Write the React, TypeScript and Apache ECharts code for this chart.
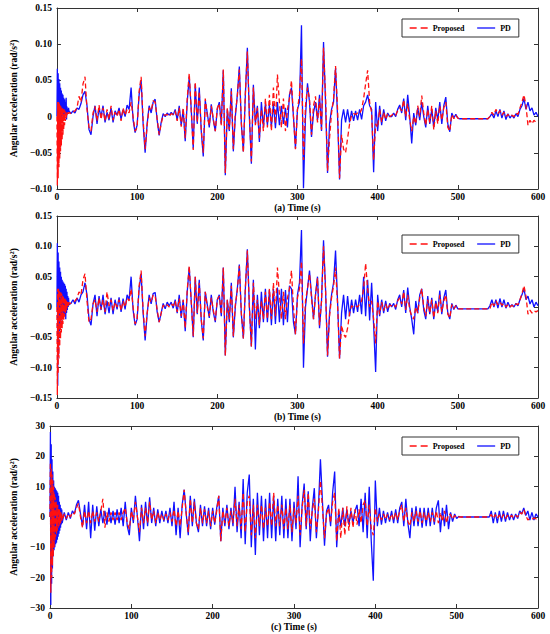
import React, { useEffect, useRef } from "react";
import * as echarts from "echarts";

// Sample times: 0..15 s every 0.5 s, then 17.5..600 s every 2.5 s
const headTime = Array.from({ length: 31 }, (_, k) => k * 0.5);
const bodyTime = Array.from({ length: 234 }, (_, k) => 17.5 + k * 2.5);
const time = [...headTime, ...bodyTime];

const xTicks = [0, 100, 200, 300, 400, 500, 600];

// ---------- Panel (a) ----------
const pdA = [
  0.0, 0.066, -0.008, 0.06, -0.006, 0.052, -0.004, 0.046, -0.002, 0.04, 0.0,
  0.036, -0.002, 0.032, 0.002, 0.03, 0.0, 0.026, 0.002, 0.024, 0.004,
  0.02, 0.002, 0.026, -0.004, 0.014, 0.004, 0.01, 0.006, 0.012, 0.008,
  0.004, 0.008, 0.005, 0.012, 0.01, 0.018, 0.03, 0.035, 0.015, -0.018,
  -0.025, 0.0, 0.015, -0.01, 0.012, 0.0, 0.015, -0.008, 0.006, -0.005,
  0.012, -0.008, 0.008, 0.002, 0.012, -0.004, 0.01, 0.0, 0.016, 0.01,
  0.04, -0.005, -0.022, -0.012, 0.03, 0.05, -0.01, -0.05, -0.01, 0.015,
  0.005, 0.02, 0.024, -0.005, -0.026, -0.008, 0.004, 0.0, 0.005, 0.002,
  0.006, 0.002, 0.01, -0.005, 0.015, -0.012, 0.01, -0.034, 0.02, 0.055,
  0.01, -0.044, 0.045, -0.01, 0.04, -0.02, -0.055, 0.022, 0.005, -0.015,
  0.017, -0.005, -0.02, 0.01, 0.02, -0.01, 0.064, -0.081, 0.01, -0.02,
  0.039, -0.048, 0.0, 0.03, 0.069, -0.01, -0.048, 0.03, 0.095, 0.0,
  -0.065, 0.044, -0.01, 0.015, -0.035, 0.02, -0.015, 0.018, -0.012, 0.016,
  -0.014, 0.018, -0.016, 0.02, -0.012, 0.015, -0.01, 0.012, -0.015, 0.03,
  0.04, 0.0, -0.044, 0.01, 0.02, 0.126, -0.099, 0.0, 0.046, 0.02,
  -0.028, 0.005, 0.02, -0.005, 0.03, -0.02, 0.103, 0.02, -0.078, -0.01,
  0.01, 0.02, 0.067, 0.0, -0.087, -0.005, 0.01, -0.008, 0.01, -0.008,
  0.008, -0.006, 0.008, -0.005, 0.01, -0.004, 0.015, 0.02, 0.03, 0.015,
  0.01, -0.077, 0.02, -0.02, 0.015, -0.012, 0.01, -0.006, 0.005, 0.0,
  0.0, 0.005, 0.0, 0.01, 0.016, 0.005, 0.025, -0.005, 0.03, 0.0,
  -0.037, 0.005, -0.012, 0.012, -0.005, 0.02, 0.0, -0.015, 0.015, -0.01,
  0.01, -0.015, 0.012, -0.005, 0.02, -0.01, 0.015, 0.027, -0.01, -0.021,
  0.005, -0.002, 0.003, -0.002, -0.003, -0.003, -0.003, -0.003, -0.003, -0.003,
  -0.003, -0.003, -0.003, -0.003, -0.003, -0.003, -0.003, -0.003, -0.003, 0.0,
  0.004, -0.002, 0.008, 0.0, 0.01, -0.002, 0.008, -0.004, 0.004, -0.002,
  0.002, -0.002, 0.004, 0.0, 0.01, 0.015, 0.025, 0.01, 0.02, 0.008,
  0.012, 0.002, 0.006, 0.0,
];

const proposedA = [
  0.0, -0.095, 0.02, -0.085, 0.02, -0.07, 0.018, -0.058, 0.016, -0.048, 0.014,
  -0.04, 0.012, -0.032, 0.012, -0.025, 0.01, -0.018, 0.01, -0.012, 0.008,
  -0.006, 0.006, -0.002, 0.005, 0.002, 0.006, 0.003, 0.006, 0.004, 0.006,
  0.004, 0.006, 0.008, 0.012, 0.028, 0.02, 0.045, 0.055, 0.01, -0.015,
  -0.02, 0.005, 0.014, -0.006, 0.016, -0.004, 0.012, -0.006, 0.01, -0.004,
  0.015, -0.005, 0.006, 0.0, 0.01, -0.006, 0.012, 0.002, 0.01, 0.005,
  0.02, 0.0, -0.02, -0.015, 0.035, 0.055, -0.005, -0.045, -0.012, 0.012,
  0.008, 0.022, 0.02, -0.003, -0.025, -0.01, 0.002, 0.002, 0.003, 0.0,
  0.004, 0.003, 0.008, -0.006, 0.012, -0.014, 0.012, -0.03, 0.025, 0.06,
  0.008, -0.046, 0.048, -0.008, 0.035, -0.018, -0.05, 0.025, 0.0, -0.012,
  0.015, -0.003, -0.02, 0.012, 0.018, -0.012, 0.065, -0.078, 0.012, -0.018,
  0.035, -0.045, 0.004, 0.028, 0.065, -0.008, -0.05, 0.032, 0.09, 0.004,
  -0.062, 0.04, -0.012, 0.012, -0.03, 0.01, -0.02, 0.025, -0.015, 0.03,
  -0.02, 0.04, -0.01, 0.058, 0.02, -0.015, 0.025, -0.02, 0.01, 0.025,
  0.05, 0.0, -0.045, 0.01, 0.03, 0.08, -0.06, 0.015, 0.04, 0.025,
  -0.025, 0.015, 0.028, -0.008, 0.025, -0.018, 0.095, 0.03, -0.075, -0.03,
  0.005, 0.025, 0.07, 0.01, -0.085, -0.025, -0.045, -0.05, -0.03, -0.01,
  0.002, 0.004, 0.003, 0.005, 0.004, 0.01, 0.025, 0.045, 0.064, 0.02,
  0.005, -0.06, -0.01, -0.015, 0.01, -0.008, 0.006, -0.004, 0.004, 0.0,
  0.002, 0.004, 0.002, 0.008, 0.012, 0.008, 0.023, 0.0, 0.018, -0.005,
  -0.02, 0.0, -0.01, 0.015, 0.0, 0.029, 0.005, -0.012, 0.01, -0.008,
  0.015, -0.018, 0.008, -0.01, 0.015, -0.005, 0.012, 0.02, -0.015, -0.02,
  0.003, -0.003, 0.002, -0.002, -0.003, -0.003, -0.003, -0.003, -0.003, -0.003,
  -0.003, -0.003, -0.003, -0.003, -0.003, -0.003, -0.003, -0.003, -0.003, 0.0,
  0.006, 0.002, 0.01, 0.004, 0.008, 0.002, 0.006, 0.0, 0.003, 0.0,
  0.002, 0.0, 0.005, 0.003, 0.012, 0.02, 0.03, 0.015, -0.012, -0.005,
  -0.01, -0.005, -0.008, -0.006,
];

// ---------- Panel (b) ----------
const pdB = [
  0.0, 0.105, -0.13, 0.09, -0.08, 0.075, -0.04, 0.065, -0.03, 0.058, -0.025,
  0.05, -0.02, 0.045, -0.018, 0.042, -0.015, 0.04, -0.012, 0.038, -0.015,
  0.035, -0.02, 0.03, -0.01, 0.025, -0.005, 0.018, 0.0, 0.015, 0.004,
  0.006, 0.012, 0.005, 0.015, 0.008, 0.02, 0.025, 0.04, 0.02, -0.02,
  -0.03, 0.005, 0.02, -0.015, 0.018, -0.005, 0.02, -0.012, 0.01, -0.01,
  0.015, -0.012, 0.012, -0.004, 0.016, -0.008, 0.014, -0.004, 0.02, 0.012,
  0.05, -0.005, -0.03, -0.02, 0.03, 0.055, -0.01, -0.055, -0.012, 0.02,
  0.005, 0.022, 0.024, -0.008, -0.025, -0.01, 0.006, -0.003, 0.008, 0.002,
  0.008, -0.002, 0.012, -0.01, 0.02, -0.018, 0.012, -0.04, 0.025, 0.065,
  0.01, -0.05, 0.05, -0.012, 0.045, -0.022, -0.055, 0.025, 0.004, -0.018,
  0.02, -0.008, -0.025, 0.012, 0.02, -0.015, 0.065, -0.08, 0.012, -0.025,
  0.04, -0.05, 0.0, 0.03, 0.07, -0.012, -0.052, 0.03, 0.095, 0.0,
  -0.065, 0.045, -0.07, 0.02, -0.035, 0.025, -0.025, 0.03, -0.025, 0.028,
  -0.03, 0.03, -0.028, 0.032, -0.025, 0.03, -0.03, 0.028, -0.025, 0.035,
  0.03, -0.025, -0.045, 0.02, 0.04, 0.127, -0.1, 0.0, 0.03, 0.06,
  0.02, -0.02, 0.02, 0.05, -0.035, 0.01, 0.11, 0.03, -0.082, -0.01,
  0.02, 0.04, 0.093, 0.01, -0.085, -0.01, 0.02, -0.02, 0.018, -0.015,
  0.012, -0.01, 0.012, -0.008, 0.02, -0.012, 0.05, -0.015, 0.045, -0.022,
  0.04, -0.03, -0.107, 0.02, -0.015, 0.012, -0.01, 0.01, -0.008, 0.006,
  0.0, 0.006, -0.004, 0.012, 0.02, 0.0, 0.028, -0.01, 0.032, 0.0,
  -0.02, -0.045, 0.01, -0.01, 0.02, 0.03, -0.005, -0.02, 0.018, -0.012,
  0.015, -0.02, 0.01, -0.008, 0.027, -0.012, 0.015, 0.028, -0.01, -0.02,
  0.006, -0.004, 0.003, -0.003, -0.003, -0.003, -0.003, -0.003, -0.003, -0.003,
  -0.003, -0.003, -0.003, -0.003, -0.003, -0.003, -0.003, -0.003, -0.003, 0.002,
  0.012, 0.0, 0.012, -0.002, 0.014, 0.0, 0.012, -0.002, 0.008, 0.0,
  0.004, 0.0, 0.006, 0.002, 0.012, 0.02, 0.03, 0.012, 0.018, 0.005,
  0.012, 0.0, 0.008, 0.002,
];

const proposedB = [
  0.0, -0.145, 0.03, -0.11, 0.03, -0.085, 0.028, -0.065, 0.026, -0.052, 0.024,
  -0.042, 0.022, -0.035, 0.02, -0.028, 0.018, -0.022, 0.016, -0.016, 0.014,
  -0.01, 0.012, -0.006, 0.01, -0.002, 0.008, 0.0, 0.008, 0.002, 0.007,
  0.006, 0.008, 0.01, 0.014, 0.025, 0.02, 0.045, 0.055, 0.01, -0.025,
  -0.02, 0.005, 0.012, -0.008, 0.015, -0.004, 0.012, -0.008, 0.025, 0.002,
  0.012, -0.006, 0.008, 0.0, 0.012, -0.006, 0.01, 0.0, 0.015, 0.01,
  0.03, 0.0, -0.028, -0.02, 0.035, 0.06, -0.005, -0.048, -0.01, 0.015,
  0.008, 0.02, 0.018, -0.004, -0.025, -0.01, 0.003, 0.0, 0.004, 0.0,
  0.005, 0.002, 0.01, -0.008, 0.014, -0.015, 0.012, -0.035, 0.028, 0.068,
  0.008, -0.048, 0.05, -0.01, 0.04, -0.02, -0.052, 0.025, 0.0, -0.015,
  0.015, -0.005, -0.022, 0.012, 0.018, -0.012, 0.065, -0.08, 0.012, -0.02,
  0.035, -0.048, 0.004, 0.028, 0.068, -0.01, -0.052, 0.032, 0.093, 0.002,
  -0.065, 0.04, -0.02, 0.012, -0.03, 0.01, -0.02, 0.025, -0.02, 0.03,
  -0.02, 0.04, -0.015, 0.065, 0.02, -0.02, 0.025, -0.02, 0.015, 0.03,
  0.06, 0.0, -0.045, 0.015, 0.03, 0.075, -0.06, 0.01, 0.03, 0.055,
  0.015, -0.02, 0.02, 0.048, -0.03, 0.01, 0.1, 0.03, -0.08, -0.015,
  0.015, 0.035, 0.065, 0.005, -0.085, -0.03, -0.045, -0.05, -0.035, -0.01,
  0.002, 0.0, 0.002, 0.0, 0.005, 0.01, 0.03, 0.072, 0.03, 0.0,
  0.01, -0.02, -0.06, 0.01, -0.012, 0.008, -0.006, 0.005, -0.004, 0.003,
  0.002, 0.004, 0.0, 0.01, 0.015, 0.005, 0.025, -0.005, 0.02, -0.005,
  -0.015, -0.02, 0.0, -0.01, 0.015, 0.03, 0.0, -0.015, 0.012, -0.01,
  0.012, -0.018, 0.008, -0.01, 0.02, -0.008, 0.01, 0.02, -0.012, -0.018,
  0.004, -0.003, 0.002, -0.003, -0.003, -0.003, -0.003, -0.003, -0.003, -0.003,
  -0.003, -0.003, -0.003, -0.003, -0.003, -0.003, -0.003, -0.003, -0.003, -0.003,
  0.008, 0.002, 0.01, 0.004, 0.008, 0.003, 0.006, 0.0, 0.004, 0.0,
  0.003, 0.0, 0.005, 0.004, 0.012, 0.022, 0.035, 0.018, -0.012, -0.005,
  -0.01, -0.006, -0.008, -0.006,
];

// ---------- Panel (c) ----------
const pdC = [
  0, 28, -29, 24, -22, 19, -17, 15, -13, 12, -11,
  10, -10, 9.5, -9, 9, -8.5, 8.5, -7.5, 8, -6.5,
  7, -5.5, 5, -4.5, 4, -3.5, 3, -2.5, 2.5, -2,
  1.5, -1, 1.5, -0.5, 2, 1, 4, 5.5, 1, -3,
  4, -4, 5, -7, 4, -4.5, 3.5, -3, 2.5, -2,
  2, -2.5, 3, -2, 2, -2.5, 2.5, -2, 3, -3,
  5, -3, -6, 3, -2, 7, 0, -8, 4, -4,
  5, -3, 6.5, -2, 3, -3, 2.5, -2, 2, -1.5,
  2, -2, 3, -3, 5, -6, 3, -7, 4, 9,
  1, -6, 7, -3, 6, -2, -5, 4, -3, 3.5,
  -3, 3, -4, 3, -2.5, 3, 7, -8, 3, -3,
  4, -4, 3, -3, 10, -5, 5, -7, 12.5, -9,
  8, 14, -10, 6, -12.5, 8, -6, 7, -8, 6,
  -7, 8, -7, 7, -8, 6, -6, 7, -7, 6,
  -7, 6, -8, 5, -4, 13.4, -10, 4, 11, -4,
  8.5, -8, 3, 9.5, -7, 3, 19, 5, -9.5, 2,
  4, -3, 8, 15, -10, 2, -3, 3, -3, 2.5,
  -2.5, 2, -2, 2, 4, -3, 6, -5, 8, -7,
  10, -8, -21, 12, -3, 3, -2.5, 2, -2, 1.5,
  -1.5, 2, -2, 2.5, -2, 3, 5, -3, 6, -2,
  -7, 3, -3, 3.5, -3, 3, -3.5, 3, -3, 3,
  -3, 3, -2.5, 3, 5.5, -5, 3, -3, 4, -4,
  1.5, -1.5, 1, -0.5, 0.2, 0, 0, 0, 0, 0,
  0, 0, 0, 0, 0, 0, 0, 0, 0, 0,
  2, -2, 1.5, -2, 2, -1.5, 2, -1.5, 1.5, -1,
  1, -1, 1, -0.5, 2, 1, 3, 0.5, 2, -1,
  1.5, -1, 1, 0,
];

const proposedC = [
  0, 18, -25, 16, -20, 14, -16, 12, -13, 10, -10,
  8, -8, 6.5, -6.5, 5.5, -5.5, 4.5, -4.5, 4, -3.5,
  3, -3, 2.5, -2.5, 2, -2, 1.5, -1.5, 1.2, -1.2,
  1, -0.5, 1, 0, 1.5, 1, 3, 4.5, 0, -3.5,
  2, -2, 2, -2, 2, -1.5, 1.5, -1.5, 2, 6,
  -3.5, 1.5, -1.5, 1.5, -1, 1.5, -1, 1.5, -1, 1.5,
  3, -2, -4, 2, -1, 5, 0, -5, 3, -2,
  3, -2, 5, -1, 2, -2, 1.5, -1, 1, -1,
  1, -1, 1.5, -1.5, 2.5, -3, 2, -3, 3, 9,
  1, -5, 6, -2, 5, -2, -4, 3, -2, 2.5,
  -2, 2, -3, 2, -2, 2, 7, -8, 2, -2,
  3, -3, 2, -2, 6, -3, 4, -4, 8, -5,
  5, 7, -6, 4, -7, 4, -3, 4, -4, 3,
  -3, 5, -3, 8, -3, 4, -3, 4, -4, 3,
  -4, 4, -5, 3, -2, 7, -6, 3, 9, -3,
  8, -4, 2, 6, -5, 2, 12, 3, -7, 1,
  3, -2, 5, 8, -8, 3, -7, 3, -6, 3.5,
  -4.5, 3, -3.5, 2.5, -2.5, 2.5, -2, 4, 5.5, -3,
  4, -4, -6, 3, -1.5, 1, -1, 1, -0.8, 0.8,
  -0.8, 1, -1, 1.5, -1, 2, 4, -1.5, 3, -1.5,
  -3, 1.5, -1.5, 2, -1.5, 2, -2, 1.5, -1.5, 1.5,
  -1.5, 1.5, -1.5, 2, -2, 1.5, -1.5, 2, -2, 1,
  0.8, -0.8, 0.5, -0.3, 0, 0, 0, 0, 0, 0,
  0, 0, 0, 0, 0, 0, 0, 0, 0, 0,
  0.8, -0.5, 0.8, -0.5, 0.6, -0.5, 0.8, -0.5, 0.5, -0.3,
  0.5, -0.3, 0.5, 0, 1.5, 1, 2.5, 0.5, -1, -0.5,
  -0.8, -0.3, -0.6, -0.5,
];

const FONT = "'Liberation Serif', 'Times New Roman', serif";
const RED = "#ff1010";
const BLUE = "#1010ff";
const AXIS_COLOR = "#333";

const fmtSmall = (v: number) =>
  Math.abs(v) < 1e-9 ? "0" : (v < 0 ? "\u2212" : "") + Math.abs(v).toFixed(2);
const fmtInt = (v: number) =>
  Math.abs(v) < 1e-9 ? "0" : (v < 0 ? "\u2212" : "") + Math.abs(Math.round(v)).toString();

const panels = [
  { top: 8, height: 181, min: -0.1, max: 0.15, interval: 0.05, label: "(a) Time (s)", pd: pdA, pr: proposedA, fmt: fmtSmall, legendTop: 19 },
  { top: 216, height: 182, min: -0.15, max: 0.15, interval: 0.05, label: "(b) Time (s)", pd: pdB, pr: proposedB, fmt: fmtSmall, legendTop: 235 },
  { top: 426, height: 182, min: -30, max: 30, interval: 10, label: "(c) Time (s)", pd: pdC, pr: proposedC, fmt: fmtInt, legendTop: 437 },
];

function buildOption() {
  const grid: any[] = [];
  const xAxis: any[] = [];
  const yAxis: any[] = [];
  const series: any[] = [];
  const legend: any[] = [];
  const tick = { show: true, inside: true, length: 4, lineStyle: { color: AXIS_COLOR, width: 1 } };
  const line = { show: true, onZero: false, lineStyle: { color: AXIS_COLOR, width: 1 } };
  const txt = { fontFamily: FONT, fontWeight: "bold", fontSize: 9.5, color: "#000" };

  panels.forEach((p, i) => {
    grid.push({ left: 49, width: 489, top: p.top, height: p.height, show: false });
    xAxis.push({
      type: "value", gridIndex: i, min: xTicks[0], max: xTicks[xTicks.length - 1], interval: 100,
      position: "bottom", axisLine: line, axisTick: tick, splitLine: { show: false },
      axisLabel: { ...txt, margin: 3 },
      name: p.label, nameLocation: "middle", nameGap: 14, nameTextStyle: { ...txt },
    });
    xAxis.push({
      type: "value", gridIndex: i, min: xTicks[0], max: xTicks[xTicks.length - 1], interval: 100,
      position: "top", axisLine: line, axisTick: tick, splitLine: { show: false },
      axisLabel: { show: false },
    });
    yAxis.push({
      type: "value", gridIndex: i, min: p.min, max: p.max, interval: p.interval,
      position: "left", axisLine: line, axisTick: tick, splitLine: { show: false },
      axisLabel: { ...txt, margin: 5, formatter: p.fmt },
      name: "Angular acceleration (rad/s{sup|2})", nameLocation: "middle", nameGap: 30,
      nameTextStyle: {
        ...txt,
        rich: { sup: { fontFamily: FONT, fontWeight: "bold", fontSize: 6.5, color: "#000", verticalAlign: "top", padding: [0, 0, 5, 0] } },
      },
    });
    yAxis.push({
      type: "value", gridIndex: i, min: p.min, max: p.max, interval: p.interval,
      position: "right", axisLine: line, axisTick: tick, splitLine: { show: false },
      axisLabel: { show: false },
    });
    series.push({
      type: "line", name: "PD", xAxisIndex: 2 * i, yAxisIndex: 2 * i,
      data: time.map((t, k) => [t, p.pd[k]]),
      symbol: "none", lineStyle: { color: BLUE, width: 1.3 }, itemStyle: { color: BLUE },
      silent: true,
    });
    series.push({
      type: "line", name: "Proposed", xAxisIndex: 2 * i, yAxisIndex: 2 * i,
      data: time.map((t, k) => [t, p.pr[k]]),
      symbol: "none", lineStyle: { color: RED, width: 1.3, type: [5, 3] }, itemStyle: { color: RED },
      silent: true,
    });
    legend.push({
      data: [
        { name: "Proposed", lineStyle: { type: [7, 4], width: 1.3, color: RED } },
        { name: "PD", lineStyle: { width: 1.3, color: BLUE } },
      ],
      left: 402, top: p.legendTop, orient: "horizontal",
      itemWidth: 18, itemHeight: 8, itemGap: 12, padding: [5, 8, 5, 7],
      borderColor: AXIS_COLOR, borderWidth: 1, backgroundColor: "#fff",
      itemStyle: { opacity: 0 },
      textStyle: { fontFamily: FONT, fontWeight: "bold", fontSize: 8, color: "#000" },
      selectedMode: false,
    });
  });

  return { animation: false, backgroundColor: "#fff", grid, xAxis, yAxis, series, legend };
}

export default function App() {
  const ref = useRef<HTMLDivElement>(null);
  useEffect(() => {
    if (!ref.current) return;
    const chart = echarts.init(ref.current, undefined, { renderer: "svg" });
    chart.setOption(buildOption() as any);
    return () => chart.dispose();
  }, []);
  return (
    <div
      ref={ref}
      style={{ position: "absolute", left: 0, top: 0, width: 550, height: 634, background: "#fff" }}
    />
  );
}
